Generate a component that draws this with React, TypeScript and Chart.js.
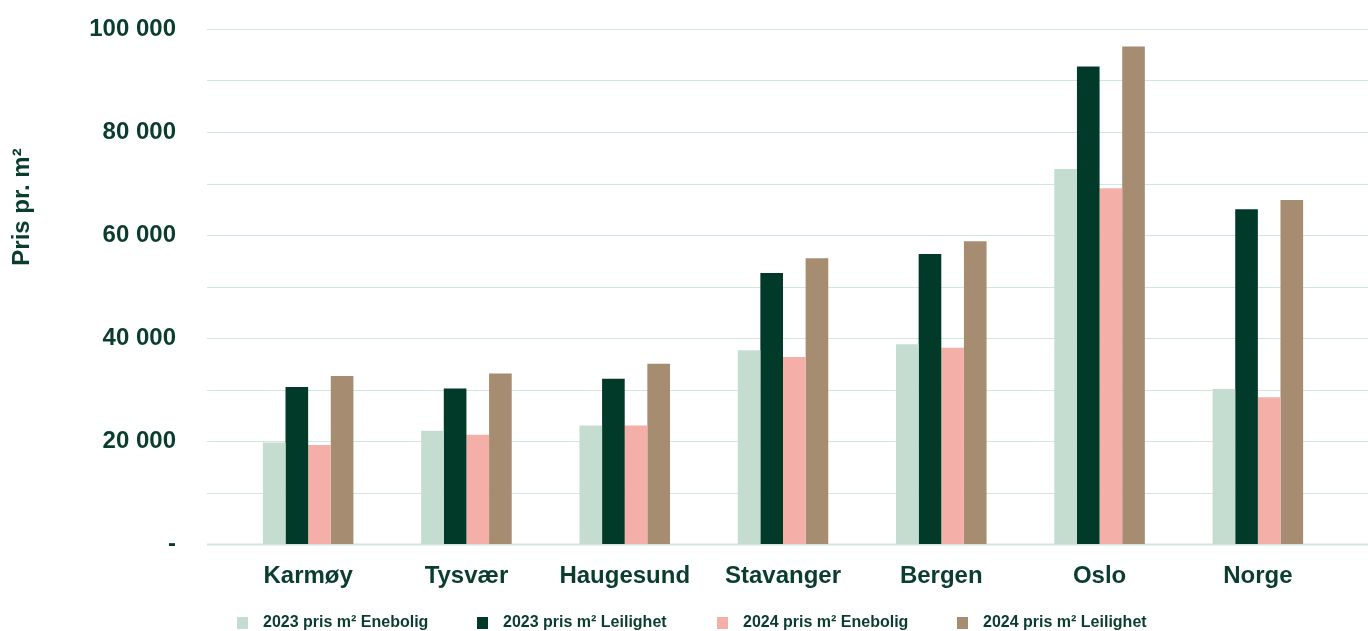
import React, { useEffect, useRef } from "react";
import { Chart, registerables } from "chart.js";

Chart.register(...registerables);

const categories = ["Karmøy", "Tysvær", "Haugesund", "Stavanger", "Bergen", "Oslo", "Norge"];

const enebolig2023 = [19700, 22000, 23000, 37600, 38800, 72800, 30100];
const leilighet2023 = [30500, 30200, 32100, 52600, 56300, 92700, 65000];
const enebolig2024 = [19200, 21200, 23000, 36300, 38100, 69100, 28500];
const leilighet2024 = [32600, 33100, 35000, 55500, 58800, 96600, 66800];

const seriesLabels = [
  "2023 pris m² Enebolig",
  "2023 pris m² Leilighet",
  "2024 pris m² Enebolig",
  "2024 pris m² Leilighet",
];
const seriesColors = ["#C5DDD0", "#023A2A", "#F4B0A8", "#A68C70"];

const yAxisTitle = "Pris pr. m²";
const yMax = 100000;
const yStep = 10000;
const yLabelStep = 20000;

const TEXT = "#0B3D2C";
const GRID = "#D3E6DC";
const FONT = "'Liberation Sans', Arial, Helvetica, sans-serif";

const formatNumber = (v: number) =>
  v === 0 ? "-" : String(v).replace(/\B(?=(\d{3})+(?!\d))/g, " ");

// Horizontal grid lines spanning wider than the category area
const gridPlugin = {
  id: "wideGrid",
  beforeDatasetsDraw(chart: any) {
    const { ctx, chartArea, scales } = chart;
    const y = scales.y;
    const x0 = chartArea.left - 22;
    const x1 = chart.width;
    ctx.save();
    ctx.strokeStyle = GRID;
    for (let v = 0; v <= yMax; v += yStep) {
      const py = Math.round(y.getPixelForValue(v)) + 0.5;
      ctx.lineWidth = v === 0 ? 2 : 1.2;
      ctx.beginPath();
      ctx.moveTo(x0, py);
      ctx.lineTo(x1, py);
      ctx.stroke();
    }
    ctx.restore();
  },
};

// Rotated y-axis title
const titlePlugin = {
  id: "yTitle",
  afterDraw(chart: any) {
    const { ctx, chartArea } = chart;
    ctx.save();
    ctx.translate(22, chartArea.top + 178);
    ctx.rotate(-Math.PI / 2);
    ctx.font = `bold 24px ${FONT}`;
    ctx.fillStyle = TEXT;
    ctx.textAlign = "center";
    ctx.textBaseline = "middle";
    ctx.fillText(yAxisTitle, 0, 0);
    ctx.restore();
  },
};

// Legend laid out in evenly spaced columns
const legendPlugin = {
  id: "columnLegend",
  afterDraw(chart: any) {
    const { ctx, chartArea } = chart;
    const step = 240;
    const left = chartArea.left + 8;
    const cy = chart.height - 8;
    ctx.save();
    ctx.font = `bold 16px ${FONT}`;
    ctx.textBaseline = "middle";
    ctx.textAlign = "left";
    chart.data.datasets.forEach((ds: any, i: number) => {
      const bx = left + i * step;
      ctx.fillStyle = ds.backgroundColor;
      ctx.fillRect(bx, cy - 6, 11, 12);
      ctx.fillStyle = TEXT;
      ctx.fillText(ds.label, bx + 26, cy);
    });
    ctx.restore();
  },
};

export default function App() {
  const canvasRef = useRef<HTMLCanvasElement | null>(null);

  useEffect(() => {
    if (!canvasRef.current) return;
    const series = [enebolig2023, leilighet2023, enebolig2024, leilighet2024];
    const chart = new Chart(canvasRef.current, {
      type: "bar",
      data: {
        labels: categories,
        datasets: series.map((data, i) => ({
          label: seriesLabels[i],
          data,
          backgroundColor: seriesColors[i],
          borderWidth: 0,
          barPercentage: 1,
          categoryPercentage: 0.572,
        })),
      },
      options: {
        animation: false,
        responsive: true,
        maintainAspectRatio: false,
        layout: { padding: { top: 29, right: 31, left: 0, bottom: 0 } },
        plugins: {
          legend: { display: false },
          title: { display: false },
          tooltip: { enabled: false },
        },
        scales: {
          x: {
            grid: { display: false, drawTicks: false },
            border: { display: false },
            ticks: {
              padding: 18,
              color: TEXT,
              font: { family: FONT, size: 24, weight: "bold" },
            },
            afterFit(scale: any) {
              scale.height = 87;
              scale.paddingLeft = 0;
              scale.paddingRight = 0;
            },
          },
          y: {
            min: 0,
            max: yMax,
            grid: { display: false, drawTicks: false },
            border: { display: false },
            ticks: {
              stepSize: yStep,
              padding: 53,
              color: TEXT,
              font: { family: FONT, size: 24, weight: "bold" },
              callback: (value: any) =>
                Number(value) % yLabelStep === 0 ? formatNumber(Number(value)) : "",
            },
            afterFit(scale: any) {
              scale.width = 229;
              scale.paddingTop = 0;
              scale.paddingBottom = 0;
            },
          },
        },
      },
      plugins: [gridPlugin, titlePlugin, legendPlugin],
    });
    return () => chart.destroy();
  }, []);

  return (
    <div
      style={{
        position: "fixed",
        left: 0,
        top: 0,
        width: 1368,
        height: 631,
        background: "#ffffff",
      }}
    >
      <canvas ref={canvasRef} />
    </div>
  );
}
